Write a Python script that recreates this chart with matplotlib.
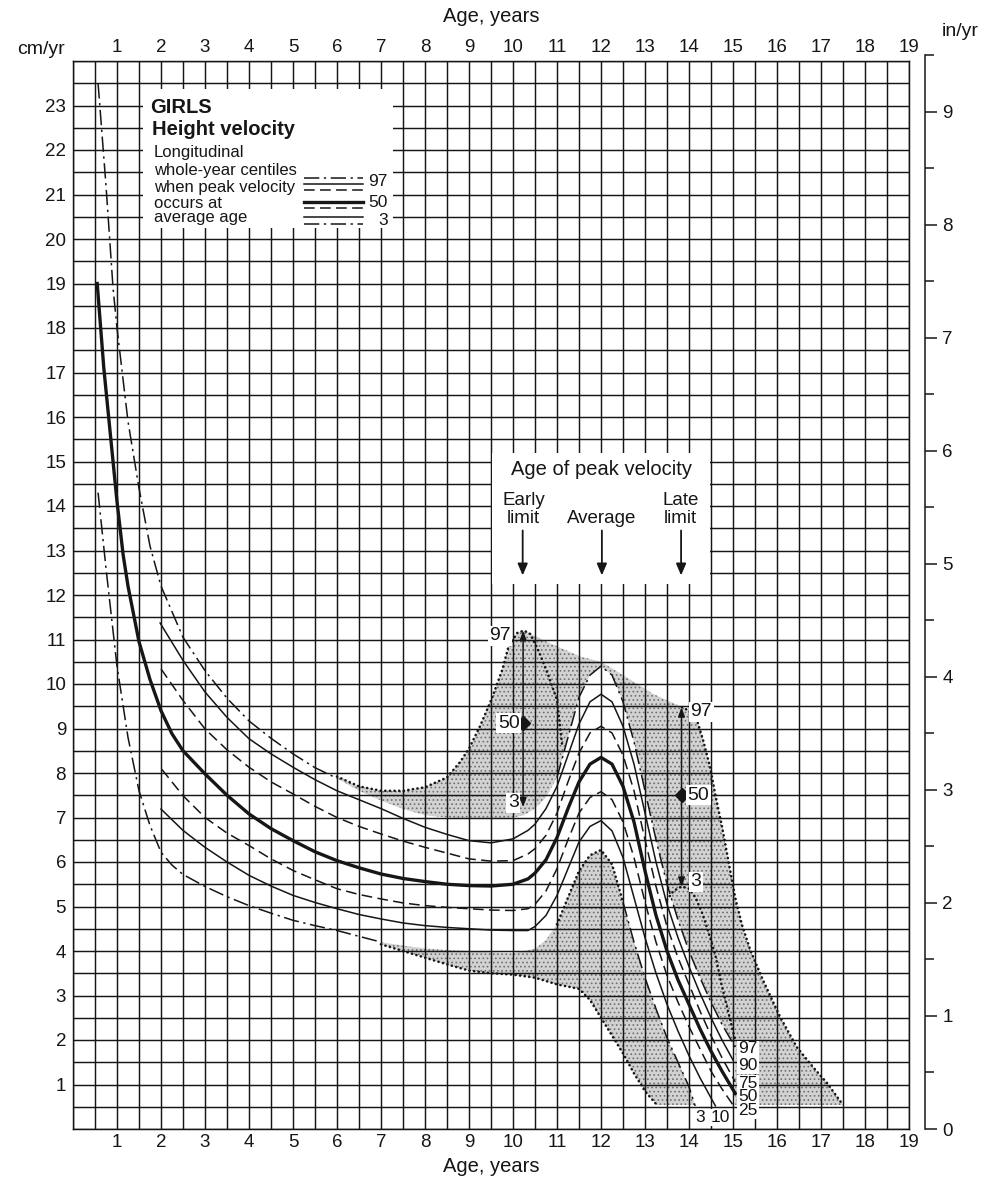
import matplotlib
matplotlib.use('Agg')
import matplotlib.pyplot as plt
from matplotlib.patches import Polygon, Rectangle
import numpy as np

plt.rcParams['font.family'] = ['Liberation Sans', 'DejaVu Sans']
plt.rcParams['hatch.linewidth'] = 0.7

# --- average-age centile curves (cm/yr) ---
c97_age = [0.57, 0.75, 0.91, 1.0, 1.25, 1.5, 1.75, 2.0, 2.5, 3.0, 3.5, 4.0, 4.5, 5.0, 5.5, 6.0, 6.5,
           7.0, 7.5, 8.0, 8.5, 9.0, 9.5, 10.0, 10.25, 10.5, 10.75, 11.0, 11.25, 11.5, 11.75, 12.0,
           12.25, 12.5, 12.75, 13.0, 13.25, 13.5, 13.75, 14.0, 14.25, 14.5, 14.75, 15.05]
c97 = [23.5, 21.2, 18.9, 18.0, 15.9, 14.4, 13.1, 12.2, 11.05, 10.3, 9.68, 9.17, 8.78, 8.43, 8.12, 7.88, 7.6,
       7.38, 7.19, 7.05, 7.0, 6.97, 6.97, 7.0, 7.05, 7.2, 7.45, 7.9, 8.8, 9.7, 10.2, 10.4,
       10.2, 9.6, 8.7, 7.6, 6.5, 5.5, 4.7, 4.0, 3.4, 2.85, 2.35, 1.84]

c90_age = [1.98, 2.5, 3.0, 3.5, 4.0, 4.5, 5.0, 5.5, 6.0, 6.5, 7.0, 7.5, 8.0, 8.5, 9.0, 9.5, 10.0, 10.34,
           10.5, 10.75, 11.0, 11.25, 11.5, 11.75, 12.0, 12.25, 12.5, 12.75, 13.0, 13.25, 13.5, 13.75,
           14.0, 14.25, 14.5, 14.75, 15.0]
c90 = [11.37, 10.53, 9.82, 9.25, 8.77, 8.43, 8.13, 7.85, 7.6, 7.4, 7.2, 6.98, 6.78, 6.62, 6.48, 6.43, 6.52, 6.71,
       6.85, 7.2, 7.7, 8.4, 9.1, 9.6, 9.77, 9.6, 9.05, 8.2, 7.1, 6.0, 5.05, 4.3,
       3.65, 3.05, 2.5, 2.0, 1.55]

c75_age = [2.0, 2.5, 3.0, 3.5, 4.0, 4.5, 5.0, 5.5, 6.0, 6.5, 7.0, 7.5, 8.0, 8.5, 9.0, 9.5, 10.0, 10.34,
           10.5, 10.75, 11.0, 11.25, 11.5, 11.75, 12.0, 12.25, 12.5, 12.75, 13.0, 13.25, 13.5, 13.75,
           14.0, 14.25, 14.5, 14.75, 15.05]
c75 = [10.34, 9.63, 8.99, 8.52, 8.13, 7.8, 7.53, 7.25, 7.0, 6.8, 6.63, 6.47, 6.33, 6.2, 6.07, 6.02, 6.03, 6.18,
       6.3, 6.6, 7.1, 7.8, 8.45, 8.9, 9.05, 8.9, 8.4, 7.6, 6.5, 5.45, 4.55, 3.85,
       3.25, 2.65, 2.1, 1.6, 1.06]

c50_age = [0.55, 0.7, 0.91, 1.0, 1.14, 1.25, 1.5, 1.75, 2.0, 2.25, 2.5, 3.0, 3.5, 4.0, 4.5, 5.0, 5.5, 6.0, 6.5,
           7.0, 7.5, 8.0, 8.5, 9.0, 9.5, 10.0, 10.34, 10.5, 10.75, 11.0, 11.25, 11.5, 11.75, 12.0,
           12.25, 12.5, 12.75, 13.0, 13.25, 13.5, 13.75, 14.0, 14.25, 14.5, 14.75, 15.05]
c50 = [19.0, 17.1, 15.0, 14.1, 12.9, 12.2, 10.95, 10.1, 9.4, 8.88, 8.5, 7.98, 7.5, 7.08, 6.75, 6.48, 6.23, 6.03, 5.87,
       5.73, 5.63, 5.56, 5.5, 5.47, 5.46, 5.5, 5.62, 5.75, 6.05, 6.55, 7.2, 7.8, 8.2, 8.35,
       8.2, 7.7, 6.9, 5.8, 4.8, 4.0, 3.35, 2.8, 2.25, 1.75, 1.3, 0.8]

c25_age = [2.02, 2.5, 3.0, 3.5, 4.0, 4.5, 5.0, 5.5, 6.0, 6.5, 7.0, 7.5, 8.0, 8.5, 9.0, 9.5, 10.0, 10.34,
           10.5, 10.75, 11.0, 11.25, 11.5, 11.75, 12.0, 12.25, 12.5, 12.75, 13.0, 13.25, 13.5, 13.75,
           14.0, 14.25, 14.5, 14.75, 15.0]
c25 = [8.08, 7.49, 7.0, 6.65, 6.37, 6.07, 5.81, 5.6, 5.4, 5.27, 5.17, 5.08, 5.02, 4.98, 4.95, 4.92, 4.91, 4.95,
       5.05, 5.35, 5.85, 6.5, 7.1, 7.45, 7.58, 7.4, 6.9, 6.1, 5.1, 4.2, 3.45, 2.85,
       2.3, 1.8, 1.3, 0.9, 0.54]

c10_age = [2.0, 2.5, 3.0, 3.5, 4.0, 4.5, 5.0, 5.5, 6.0, 6.5, 7.0, 7.5, 8.0, 8.5, 9.0, 9.5, 10.0, 10.34,
           10.5, 10.75, 11.0, 11.25, 11.5, 11.75, 12.0, 12.25, 12.5, 12.75, 13.0, 13.25, 13.5, 13.75,
           14.0, 14.25, 14.5, 14.6]
c10 = [7.19, 6.71, 6.33, 6.0, 5.7, 5.46, 5.25, 5.09, 4.95, 4.82, 4.72, 4.63, 4.57, 4.53, 4.5, 4.47, 4.46, 4.46,
       4.55, 4.8, 5.25, 5.85, 6.45, 6.8, 6.93, 6.7, 6.1, 5.2, 4.3, 3.5, 2.8, 2.2,
       1.65, 1.15, 0.7, 0.52]

c3_age = [0.57, 0.75, 1.0, 1.25, 1.5, 1.75, 2.0, 2.25, 2.5, 3.0, 3.5, 4.0, 4.5, 5.0, 5.5, 6.0, 6.5, 7.0, 7.5,
          8.0, 8.5, 9.0, 9.5, 10.0, 10.5, 10.75, 11.0, 11.25, 11.5, 11.75, 12.0, 12.25, 12.5, 12.75,
          13.0, 13.25, 13.5, 13.75, 14.0, 14.14]
c3 = [14.3, 12.6, 10.4, 8.8, 7.6, 6.82, 6.22, 5.93, 5.72, 5.45, 5.22, 5.02, 4.85, 4.69, 4.57, 4.46, 4.33, 4.2, 4.12,
      4.06, 4.02, 4.0, 3.97, 3.95, 4.05, 4.25, 4.6, 5.2, 5.8, 6.15, 6.27, 5.95, 5.1, 4.2,
      3.4, 2.7, 2.05, 1.5, 0.95, 0.52]

# --- early / late maturer limits (dotted curves) ---
e97_age = [6.0, 6.5, 7.0, 7.5, 8.0, 8.5, 8.8, 9.0, 9.25, 9.5, 9.75, 9.9, 10.1, 10.25, 10.4, 10.6, 10.8, 11.0, 11.12]
e97 = [7.92, 7.7, 7.6, 7.6, 7.68, 7.9, 8.25, 8.55, 9.05, 9.63, 10.3, 10.85, 11.15, 11.2, 11.12, 10.7, 10.2, 9.64, 8.6]
e3_age = [7.0, 7.5, 8.0, 8.5, 9.0, 9.5, 10.0, 10.5, 11.0, 11.5, 11.75, 12.0, 12.25, 12.5, 12.75, 13.0, 13.27]
e3 = [4.15, 4.0, 3.85, 3.7, 3.56, 3.5, 3.47, 3.4, 3.25, 3.15, 2.9, 2.5, 2.1, 1.7, 1.25, 0.85, 0.54]
ridge_age = [10.25, 10.77, 11.52, 12.0, 12.5, 13.18, 13.84]
ridge = [11.2, 10.95, 10.62, 10.5, 10.2, 9.78, 9.48]
l97_age = [13.84, 14.0, 14.18, 14.32, 14.48, 14.6, 14.75, 14.9, 15.05, 15.2, 15.4, 15.68, 16.07, 16.45, 16.82, 17.14, 17.5]
l97 = [9.48, 9.4, 9.19, 8.74, 8.13, 7.5, 6.8, 6.0, 5.2, 4.6, 4.0, 3.35, 2.52, 1.84, 1.39, 1.03, 0.54]
l3_age = [13.5, 13.65, 13.83, 14.0, 14.15, 14.3, 14.45, 14.6, 14.75, 14.9, 15.05]
l3 = [5.15, 5.35, 5.45, 5.4, 5.2, 4.85, 4.4, 3.9, 3.2, 2.6, 2.0]

# age of peak velocity: early limit and late limit, 97 / 50 / 3 centile peaks
peak_age = [10.23, 13.83]
peak_97 = [11.2, 9.48]
peak_50 = [9.12, 7.5]
peak_3 = [7.23, 5.44]

x_ticks = list(range(1, 20))
y_ticks = list(range(1, 24))
in_ticks = list(range(0, 10))

INK = '#161616'
DASH = (0, (7, 3.5))
DASHDOT = (0, (10, 3, 1.5, 3))
DOT = (0, (0.05, 1.7))

W, H = 983, 1182
PX_CM = (1129 - 61) / 24.0
fig = plt.figure(figsize=(W / 100, H / 100), dpi=100)
ax = fig.add_axes([73 / W, (H - 1129) / H, (909 - 73) / W, (1129 - 61) / H])
ax.set_xlim(0, 19)
ax.set_ylim(0, 24)

ax.set_xticks(x_ticks)
ax.set_xticks(np.arange(0, 19.01, 0.5), minor=True)
ax.set_yticks(y_ticks)
ax.set_yticks(np.arange(0, 24.01, 0.5), minor=True)
ax.grid(which='both', color=INK, lw=1.05)
ax.set_axisbelow(False)
ax.tick_params(which='both', length=0, labelsize=13.5, colors=INK)
ax.tick_params(axis='x', labeltop=True, labelbottom=True, pad=3.5)
ax.tick_params(axis='y', pad=5)
for s in ax.spines.values():
    s.set_color(INK)
    s.set_linewidth(1.05)

# shaded area of early / late maturers
a = np.array(e97_age)
m = a <= 10.25
sx = np.concatenate([a[m], ridge_age, l97_age, e3_age[::-1]])
sy = np.concatenate([np.array(e97)[m], ridge, l97, e3[::-1]])
ax.add_patch(Polygon(np.column_stack([sx, sy]), closed=True, facecolor='#d2d2d2',
                     edgecolor='#707070', hatch='....', lw=0, zorder=1))

# white band between the 97th and 3rd centiles at average age
u_age = np.array(c97_age)
l_age = np.array(c3_age)
bx = np.concatenate([u_age[u_age >= 6.0], [c97_age[-1], c3_age[-1]], l_age[l_age >= 6.0][::-1]])
by = np.concatenate([np.array(c97)[u_age >= 6.0], [0.45, 0.45], np.array(c3)[l_age >= 6.0][::-1]])
ax.add_patch(Polygon(np.column_stack([bx, by]), closed=True, facecolor='white', lw=0, zorder=1.5))

# centile curves
v97 = np.where((u_age > 6.3) & (u_age < 10.8), np.nan, c97)
ax.plot(c97_age, v97, color=INK, lw=1.1, ls=DASHDOT, zorder=3)
ax.plot(c90_age, c90, color=INK, lw=1.1, zorder=3)
ax.plot(c75_age, c75, color=INK, lw=1.1, ls=DASH, zorder=3)
ax.plot(c50_age, c50, color=INK, lw=2.4, zorder=3)
ax.plot(c25_age, c25, color=INK, lw=1.1, ls=DASH, zorder=3)
ax.plot(c10_age, c10, color=INK, lw=1.1, zorder=3)
v3a = np.where(l_age <= 7.0, c3, np.nan)
v3b = np.where((l_age >= 10.9) & (l_age <= 12.5), c3, np.nan)
v3c = np.where(l_age >= 12.5, c3, np.nan)
ax.plot(c3_age, v3a, color=INK, lw=1.1, ls=DASHDOT, zorder=3)
ax.plot(c3_age, v3b, color=INK, lw=1.9, ls=DOT, dash_capstyle='round', zorder=3)
ax.plot(c3_age, v3c, color=INK, lw=1.1, ls=DASHDOT, zorder=3)

for xa, ya in [(e97_age, e97), (e3_age, e3), (l97_age, l97), (l3_age, l3)]:
    ax.plot(xa, ya, color=INK, lw=1.9, ls=DOT, dash_capstyle='round', zorder=3)

# peak-velocity arrows
for xp, t, mid, b in zip(peak_age, peak_97, peak_50, peak_3):
    for tip in (t, b):
        ax.annotate('', xy=(xp, tip), xytext=(xp, mid),
                    arrowprops=dict(arrowstyle='-|>,head_length=0.55,head_width=0.2',
                                    color=INK, lw=1.1, shrinkA=0, shrinkB=0), zorder=5)
    ax.plot([xp], [mid], marker='D', ms=7, color=INK, zorder=6)

lab = dict(fontsize=14, color=INK, zorder=7,
           bbox=dict(boxstyle='square,pad=0.08', fc='white', ec='none'))
ax.text(peak_age[0] - 0.28, peak_97[0] - 0.12, '97', ha='right', va='center', **lab)
ax.text(peak_age[0] - 0.08, peak_50[0], '50', ha='right', va='center', **lab)
ax.text(peak_age[0] - 0.1, peak_3[0] + 0.1, '3', ha='right', va='center', **lab)
ax.text(peak_age[1] + 0.2, peak_97[1] - 0.1, '97', ha='left', va='center', **lab)
ax.text(peak_age[1] + 0.13, peak_50[1], '50', ha='left', va='center', **lab)
ax.text(peak_age[1] + 0.2, peak_3[1] + 0.12, '3', ha='left', va='center', **lab)

# end labels of the centile curves
end = dict(fontsize=12.5, color=INK, zorder=7, va='center',
           bbox=dict(boxstyle='square,pad=0.05', fc='white', ec='none'))
for txt, yy in [('97', 1.8), ('90', 1.42), ('75', 1.02), ('50', 0.72), ('25', 0.42)]:
    ax.text(15.12, yy, txt, ha='left', **end)
ax.text(14.25, 0.26, '3', ha='center', **end)
ax.text(14.72, 0.26, '10', ha='center', **end)

# title / legend box
ax.add_patch(Rectangle((1.6, 20.25), 7.27 - 1.6, 23.37 - 20.25, facecolor='white', lw=0, zorder=4))
ax.text(1.76, 22.96, 'GIRLS', fontsize=14.5, fontweight='bold', va='center', color=INK, zorder=5)
ax.text(1.8, 22.47, 'Height velocity', fontsize=14.5, fontweight='bold', va='center', color=INK, zorder=5)
for txt, yy in [('Longitudinal', 21.94), ('whole-year centiles', 21.54), ('when peak velocity', 21.16),
                ('occurs at', 20.8), ('average age', 20.48)]:
    ax.text(1.84, yy, txt, fontsize=12, va='center', color=INK, zorder=5)
samples = [(21.37, DASHDOT, 1.1), (21.23, '-', 1.1), (21.09, DASH, 1.1), (20.83, '-', 2.4),
           (20.69, DASH, 1.1), (20.49, '-', 1.1), (20.33, DASHDOT, 1.1)]
for yy, ls, lw in samples:
    ax.plot([5.25, 6.6], [yy, yy], color=INK, ls=ls, lw=lw, zorder=5)
for txt, yy in [('97', 21.3), ('50', 20.83), ('3', 20.42)]:
    ax.text(7.15, yy, txt, fontsize=12.5, ha='right', va='center', color=INK, zorder=5)

# age of peak velocity box
ax.add_patch(Rectangle((9.53, 12.25), 14.47 - 9.53, 15.2 - 12.25, facecolor='white', lw=0, zorder=4))
ax.text(12.02, 14.82, 'Age of peak velocity', fontsize=14.5, ha='center', va='center', color=INK, zorder=5)
for xx, l1, l2 in [(10.24, 'Early', 'limit'), (13.8, 'Late', 'limit')]:
    ax.text(xx, 14.13, l1, fontsize=13.5, ha='center', va='center', color=INK, zorder=5)
    ax.text(xx, 13.72, l2, fontsize=13.5, ha='center', va='center', color=INK, zorder=5)
ax.text(12.02, 13.72, 'Average', fontsize=13.5, ha='center', va='center', color=INK, zorder=5)
for xx in (10.22, 12.02, 13.82):
    ax.annotate('', xy=(xx, 12.44), xytext=(xx, 13.45),
                arrowprops=dict(arrowstyle='-|>,head_length=0.7,head_width=0.3',
                                color=INK, lw=1.3, shrinkA=0, shrinkB=0), zorder=5)

# inches scale on the right (0 to 9.5 in)
top_px = 1129 - 9.5 * 2.54 * PX_CM
ax2 = fig.add_axes([73 / W, (H - 1129) / H, (909 - 73) / W, (1129 - top_px) / H])
ax2.set_ylim(0, 9.5)
ax2.patch.set_visible(False)
ax2.xaxis.set_visible(False)
ax2.yaxis.tick_right()
ax2.spines['right'].set_position(('outward', 11.5))
ax2.spines['right'].set_color(INK)
ax2.spines['right'].set_linewidth(1.1)
for s in ['left', 'top', 'bottom']:
    ax2.spines[s].set_visible(False)
ax2.set_yticks(in_ticks)
ax2.set_yticks(np.arange(0.5, 9.6, 1.0), minor=True)
ax2.tick_params(axis='y', which='major', length=8.5, width=1.1, labelsize=13.5, pad=4, colors=INK)
ax2.tick_params(axis='y', which='minor', length=6.5, width=1.1, colors=INK)

fig.text(41 / W, 1 - 50 / H, 'cm/yr', fontsize=14, ha='center', va='center', color=INK)
fig.text(960 / W, 1 - 32 / H, 'in/yr', fontsize=14, ha='center', va='center', color=INK)
fig.text(491 / W, 1 - 17 / H, 'Age, years', fontsize=14.5, ha='center', va='center', color=INK)
fig.text(491 / W, 1 - 1166 / H, 'Age, years', fontsize=14.5, ha='center', va='center', color=INK)

fig.savefig('out.png', dpi=100, facecolor='white')
